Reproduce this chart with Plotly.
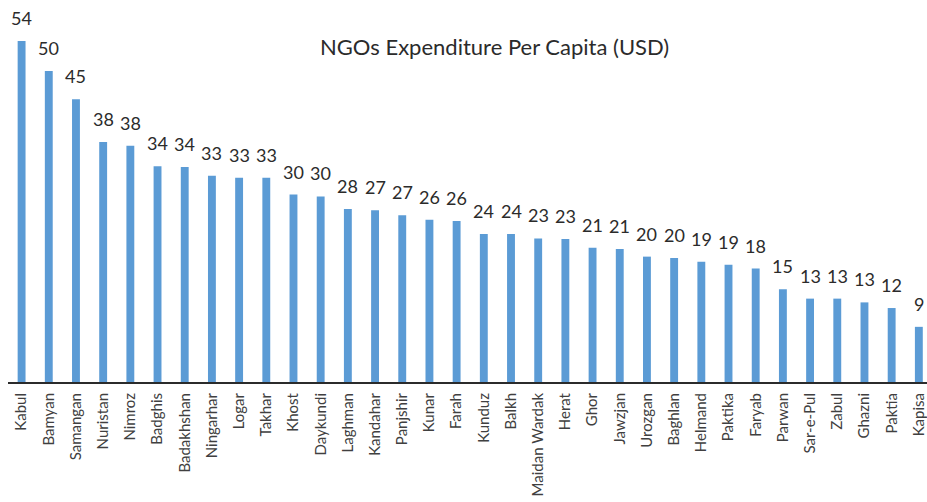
import plotly.graph_objects as go

PROVINCES = [
    "Kabul", "Bamyan", "Samangan", "Nuristan", "Nimroz", "Badghis", "Badakhshan",
    "Ningarhar", "Logar", "Takhar", "Khost", "Daykundi", "Laghman", "Kandahar",
    "Panjshir", "Kunar", "Farah", "Kunduz", "Balkh", "Maidan Wardak", "Herat",
    "Ghor", "Jawzjan", "Urozgan", "Baghlan", "Helmand", "Paktika", "Faryab",
    "Parwan", "Sar-e-Pul", "Zabul", "Ghazni", "Paktia", "Kapisa",
]
EXPENDITURE = [
    54.4, 49.6, 45.1, 38.3, 37.7, 34.4, 34.3,
    32.9, 32.6, 32.6, 29.9, 29.6, 27.6, 27.4,
    26.6, 25.9, 25.7, 23.6, 23.6, 22.9, 22.8,
    21.4, 21.2, 20.0, 19.8, 19.2, 18.7, 18.1,
    14.8, 13.3, 13.3, 12.7, 11.8, 8.8,
]
TITLE = "NGOs Expenditure Per Capita (USD)"

FONT = "Lato"
BAR_COLOR = "#5B9BD5"

fig = go.Figure(
    go.Bar(
        x=PROVINCES,
        y=EXPENDITURE,
        marker={"color": BAR_COLOR, "line": {"width": 0}},
        hoverinfo="x+y",
    )
)

# value labels sit a fixed distance above each bar, rounded like the source
for name, value in zip(PROVINCES, EXPENDITURE):
    fig.add_annotation(
        x=name,
        y=value,
        text=f"{value:.0f}",
        showarrow=False,
        yanchor="middle",
        yshift=23,
        borderpad=0,
        font={"family": FONT, "size": 18, "color": "#2b2b2b"},
    )

fig.add_annotation(
    text=TITLE,
    xref="paper",
    yref="paper",
    x=0.5294,
    y=0.877,
    xanchor="center",
    yanchor="middle",
    showarrow=False,
    font={"family": FONT, "size": 22, "color": "#2b2b2b"},
)

fig.update_layout(
    width=927,
    height=502,
    margin={"l": 8, "r": 0, "t": 0, "b": 120},
    paper_bgcolor="white",
    plot_bgcolor="white",
    bargap=0.71,
    showlegend=False,
    xaxis={
        "range": [-0.5, 33.3],
        "tickangle": -90,
        "automargin": False,
        "showline": True,
        "linecolor": "#2b2b2b",
        "linewidth": 2,
        "ticks": "",
        "showgrid": False,
        "tickfont": {"family": FONT, "size": 15, "color": "#404040"},
        "ticklabelstandoff": 3,
        "ticklabeloverflow": "allow",
    },
    yaxis={
        "range": [0, 60.94],
        "visible": False,
        "showgrid": False,
        "zeroline": False,
        "automargin": False,
    },
)

# drop the page's default body margin so the figure fills the window
fig.write_html(
    "out.html",
    config={"displayModeBar": False},
    post_script="document.body.style.margin='0';document.body.style.overflow='hidden';",
)
